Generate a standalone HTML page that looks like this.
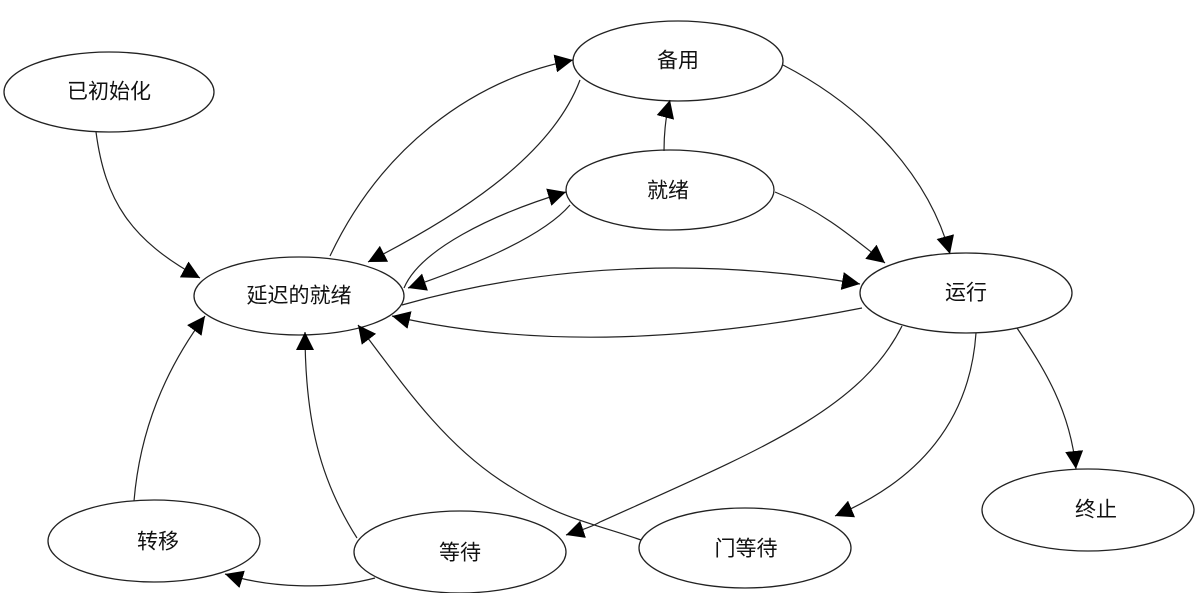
<!DOCTYPE html>
<html><head><meta charset="utf-8"><style>
html,body{margin:0;padding:0;background:#fff}
svg{display:block}
text{font-family:"Liberation Sans","Noto Sans CJK SC",sans-serif;font-size:21px;fill:#111;text-anchor:middle;dominant-baseline:central}
</style></head><body>
<svg width="1199" height="593" viewBox="0 0 1199 593" xmlns="http://www.w3.org/2000/svg">
<defs><marker id="a" viewBox="0 0 10 10" refX="10" refY="5" markerWidth="18" markerHeight="18" markerUnits="userSpaceOnUse" orient="auto"><path d="M0,0L10,5L0,10z" fill="#000"/></marker></defs>
<g fill="none" stroke="#222" stroke-width="1.3">
<ellipse cx="109" cy="92" rx="105" ry="40"/>
<ellipse cx="678" cy="61" rx="105" ry="40"/>
<ellipse cx="670" cy="190" rx="104" ry="40"/>
<ellipse cx="299" cy="296" rx="105" ry="39"/>
<ellipse cx="966" cy="293" rx="106" ry="40"/>
<ellipse cx="1088" cy="510" rx="106" ry="41"/>
<ellipse cx="154" cy="541" rx="106" ry="41"/>
<ellipse cx="460" cy="552" rx="106" ry="41"/>
<ellipse cx="745" cy="548" rx="106" ry="40"/>
</g>
<g fill="none" stroke="#222" stroke-width="1.2" marker-end="url(#a)">
<path d="M96,132 C105,200 130,240 200,278"/>
<path d="M330,256 C380,150 470,80 573,60"/>
<path d="M580,80 C550,160 450,220 368,262"/>
<path d="M404,288 C420,250 490,215 566,192"/>
<path d="M570,205 C540,240 460,270 408,288"/>
<path d="M402,305 C560,260 720,260 860,284"/>
<path d="M862,308 C700,340 540,350 392,316"/>
<path d="M783,65 C870,110 930,180 950,254"/>
<path d="M775,192 C820,210 850,235 885,263"/>
<path d="M664,151 C664,130 666,115 670,100"/>
<path d="M902,326 C860,410 760,450 600,522 C590,528 575,532 566,535"/>
<path d="M641,540 C590,522 560,520 500,480 C440,440 400,380 358,325"/>
<path d="M357,538 C320,480 305,420 305,332"/>
<path d="M134,501 C140,430 165,370 205,316"/>
<path d="M375,578 C330,590 270,588 225,574"/>
<path d="M976,333 C970,420 920,480 835,516"/>
<path d="M1017,328 C1045,370 1070,410 1076,469"/>
</g>
<text x="109" y="92">已初始化</text>
<text x="678" y="61">备用</text>
<text x="668" y="191">就绪</text>
<text x="299" y="296">延迟的就绪</text>
<text x="966" y="293">运行</text>
<text x="1096" y="510">终止</text>
<text x="158" y="542">转移</text>
<text x="460" y="553">等待</text>
<text x="746" y="549">门等待</text>
</svg>
</body></html>
